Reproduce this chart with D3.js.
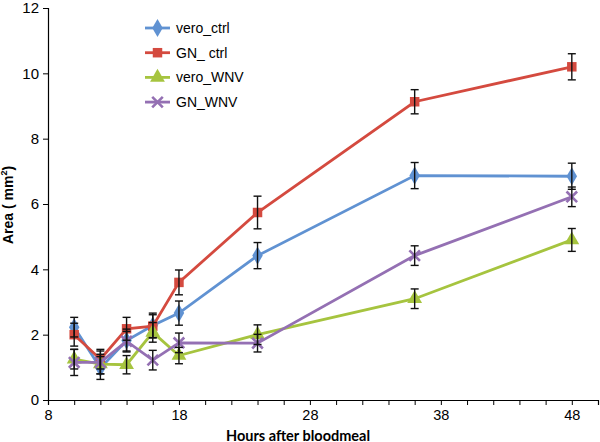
<!DOCTYPE html>
<html>
<head>
<meta charset="utf-8">
<script src="https://cdn.jsdelivr.net/npm/d3@7"></script>
<style>
  body { margin: 0; background: #fff; }
  svg { display: block; }
</style>
</head>
<body>
<svg id="chart"></svg>
<script>
const hours = [10, 12, 14, 16, 18, 24, 36, 48];

const veroCtrl = [2.23, 0.98, 1.82, 2.28, 2.66, 4.42, 6.87, 6.85];
const veroCtrlErr = [0.3, 0.35, 0.35, 0.38, 0.37, 0.4, 0.4, 0.4];

const gnCtrl = [2.0, 1.25, 2.18, 2.26, 3.6, 5.74, 9.13, 10.2];
const gnCtrlErr = [0.35, 0.3, 0.35, 0.35, 0.38, 0.5, 0.37, 0.4];

const veroWnv = [1.25, 1.1, 1.08, 2.07, 1.36, 2.0, 3.1, 4.9];
const veroWnvErr = [0.3, 0.3, 0.28, 0.3, 0.25, 0.3, 0.3, 0.35];

const gnWnv = [1.15, 1.15, 1.8, 1.22, 1.75, 1.74, 4.42, 6.22];
const gnWnvErr = [0.4, 0.35, 0.3, 0.3, 0.3, 0.27, 0.3, 0.3];

const seriesNames = ["vero_ctrl", "GN_ ctrl", "vero_WNV", "GN_WNV"];
const xTickLabels = [8, 18, 28, 38, 48];
const yTickLabels = [0, 2, 4, 6, 8, 10, 12];

const series = [
  { name: seriesNames[0], values: veroCtrl, err: veroCtrlErr, color: "#6092d2", shape: "diamond" },
  { name: seriesNames[1], values: gnCtrl, err: gnCtrlErr, color: "#d44a3f", shape: "square" },
  { name: seriesNames[2], values: veroWnv, err: veroWnvErr, color: "#a6c43f", shape: "triangle" },
  { name: seriesNames[3], values: gnWnv, err: gnWnvErr, color: "#9470b3", shape: "cross" }
];

const width = 600, height = 442;
const margin = { top: 8, right: 2, bottom: 42, left: 48 };

const svg = d3.select("#chart").attr("width", width).attr("height", height);

const x = d3.scaleLinear().domain([8, 50]).range([margin.left, width - margin.right]);
const y = d3.scaleLinear().domain([0, 12]).range([height - margin.bottom, margin.top]);

const axisFont = "'Liberation Sans', Arial, sans-serif";

// y axis
const yAxis = svg.append("g")
  .attr("transform", `translate(${margin.left},0)`)
  .call(d3.axisLeft(y).tickValues(yTickLabels).tickSize(5).tickPadding(4).tickFormat(d3.format("d")));
yAxis.select(".domain").attr("stroke", "#000").attr("stroke-width", 1.2);
yAxis.selectAll(".tick line").attr("stroke", "#000");
yAxis.selectAll("text").attr("font-family", axisFont).attr("font-size", 15).attr("fill", "#000");

// x axis: minor ticks every 2 hours, labels every 10
const xAxis = svg.append("g")
  .attr("transform", `translate(0,${height - margin.bottom})`)
  .call(d3.axisBottom(x).tickValues(d3.range(8, 51, 2)).tickSize(5).tickPadding(5)
    .tickFormat(d => xTickLabels.includes(d) ? d : ""));
xAxis.select(".domain").attr("stroke", "#000").attr("stroke-width", 1.2);
xAxis.selectAll(".tick line").attr("stroke", "#000");
xAxis.selectAll("text").attr("font-family", axisFont).attr("font-size", 14.5).attr("fill", "#000");

// axis titles
svg.append("text")
  .attr("x", 298).attr("y", 440.5)
  .attr("text-anchor", "middle")
  .attr("font-family", "Lato, 'Open Sans', sans-serif")
  .attr("font-weight", "bold")
  .attr("font-size", 14.5)
  .text("Hours after bloodmeal");

const yTitle = svg.append("text")
  .attr("transform", "translate(13,205) rotate(-90)")
  .attr("text-anchor", "middle")
  .attr("font-family", axisFont)
  .attr("font-weight", "bold")
  .attr("font-size", 14);
yTitle.append("tspan").text("Area ( mm");
yTitle.append("tspan").attr("font-size", 9).attr("dy", -6).text("2");
yTitle.append("tspan").attr("dy", 6).text(")");

const symbolType = {
  diamond: d3.symbolDiamond,
  square: d3.symbolSquare,
  triangle: d3.symbolTriangle,
  cross: d3.symbolX
};
const symbolSize = { diamond: 95, square: 90, triangle: 95, cross: 75 };

function drawMarker(g, s) {
  const path = g.append("path")
    .attr("d", d3.symbol().type(symbolType[s.shape]).size(symbolSize[s.shape])());
  if (s.shape === "cross") {
    path.attr("fill", "none").attr("stroke", s.color).attr("stroke-width", 2.6);
  } else {
    path.attr("fill", s.color);
  }
}

const line = d3.line().x((d, i) => x(hours[i])).y(d => y(d));

series.forEach(s => {
  const g = svg.append("g");
  g.append("path")
    .datum(s.values)
    .attr("d", line)
    .attr("fill", "none")
    .attr("stroke", s.color)
    .attr("stroke-width", 2.8);

  s.values.forEach((v, i) => {
    const m = g.append("g").attr("transform", `translate(${x(hours[i])},${y(v)})`);
    drawMarker(m, s);
  });
});

// error bars on top
series.forEach(s => {
  const g = svg.append("g").attr("stroke", "#111").attr("stroke-width", 1.4);
  s.values.forEach((v, i) => {
    const cx = x(hours[i]);
    const top = y(v + s.err[i]), bot = y(v - s.err[i]);
    g.append("line").attr("x1", cx).attr("x2", cx).attr("y1", top).attr("y2", bot);
    g.append("line").attr("x1", cx - 4).attr("x2", cx + 4).attr("y1", top).attr("y2", top);
    g.append("line").attr("x1", cx - 4).attr("x2", cx + 4).attr("y1", bot).attr("y2", bot);
  });
});

// legend
const legend = svg.append("g").attr("transform", "translate(145,28)");
series.forEach((s, i) => {
  const row = legend.append("g").attr("transform", `translate(0,${i * 24.7})`);
  row.append("line").attr("x1", 0).attr("x2", 25).attr("y1", 0).attr("y2", 0)
    .attr("stroke", s.color).attr("stroke-width", 2.8);
  const m = row.append("g").attr("transform", "translate(12.5,0)");
  drawMarker(m, s);
  row.append("text")
    .attr("x", 31).attr("y", 5)
    .attr("font-family", axisFont)
    .attr("font-size", 14)
    .text(s.name);
});
</script>
</body>
</html>
